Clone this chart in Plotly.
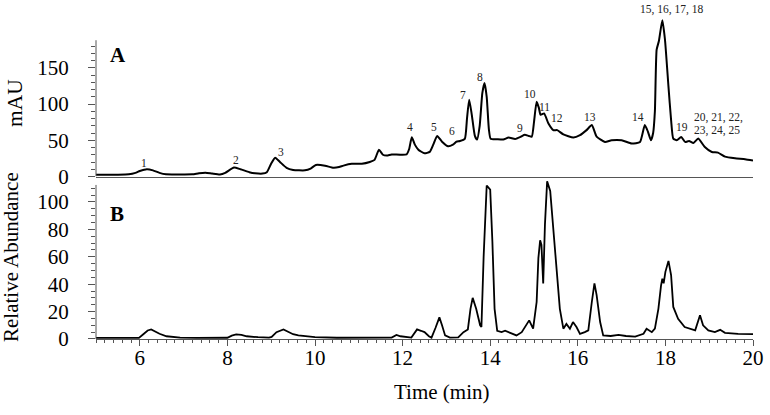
import plotly.graph_objects as go

# ---- Panel A (UV, mAU) ----
uv_time = [5.0, 5.5, 5.75, 5.9, 6.0, 6.16, 6.3, 6.45, 6.6, 6.9, 7.2, 7.35, 7.5, 7.65, 7.83, 7.95, 8.15, 8.3,
           8.5, 8.63, 8.8, 8.9, 9.0, 9.09, 9.2, 9.35, 9.5, 9.77, 9.9, 10.02, 10.23, 10.42, 10.55, 10.65,
           10.84, 11.07, 11.25, 11.36, 11.46, 11.55, 11.64, 11.75, 12.09, 12.15, 12.21, 12.28, 12.36,
           12.5, 12.62, 12.7, 12.79, 12.9, 13.04, 13.15, 13.23, 13.31, 13.42, 13.47, 13.52, 13.58,
           13.65, 13.7, 13.76, 13.82, 13.87, 13.92, 13.97, 14.01, 14.15, 14.3, 14.42, 14.57, 14.7,
           14.79, 14.88, 14.95, 15.0, 15.06, 15.11, 15.15, 15.23, 15.33, 15.44, 15.53, 15.67, 15.9,
           16.05, 16.2, 16.32, 16.43, 16.62, 16.77, 17.0, 17.23, 17.42, 17.53, 17.6, 17.67, 17.72,
           17.76, 17.8, 17.85, 17.93, 17.99, 18.07, 18.13, 18.18, 18.26, 18.36, 18.45, 18.54, 18.64,
           18.75, 18.9, 19.06, 19.2, 19.36, 19.59, 19.82, 20.0]
uv_mau = [2.5, 2.5, 3, 5, 7.5, 10, 8.5, 5, 3, 2.8, 3, 4.5, 5.2, 4, 2.8, 5, 12.5, 10,
          6, 4.5, 4, 6, 18, 26, 20, 12, 9, 8.5, 11, 16, 15, 12, 13, 15,
          17.5, 17.5, 20, 23, 37, 30, 29, 30.5, 30.5, 38, 54, 44, 37,
          32, 34, 44, 56, 48, 41.7, 44, 48, 49, 52, 80, 106, 85,
          56, 51, 70, 115, 129, 110, 65, 52, 51.4, 51, 53.7, 51.8, 55,
          57.5, 56, 55, 75, 103, 95, 85, 87, 73, 64, 64, 58, 53.7,
          57, 64, 71, 55, 47.7, 50, 50, 45.4, 47.7, 71, 62, 50, 60,
          90, 175, 186.5, 215.7, 189, 124, 78, 52.3, 50, 54.6, 47.7, 49, 46.3,
          52.3, 40.7, 33.8, 33, 27.5, 25.2, 23.9, 22]

# ---- Panel B (MS, relative abundance) ----
ms_time = [5.0, 5.5, 5.98, 6.08, 6.18, 6.26, 6.35, 6.45, 6.61, 6.8, 6.92, 7.3, 7.7, 8.0, 8.1, 8.2, 8.32,
           8.44, 8.7, 8.95, 9.01, 9.12, 9.28, 9.4, 9.5, 9.62, 9.8, 10.0, 10.5, 11.0, 11.5, 11.75, 11.86,
           11.95, 12.2, 12.27, 12.33, 12.42, 12.5, 12.6, 12.66, 12.75, 12.84, 12.9, 12.97, 13.08, 13.27,
           13.39, 13.49, 13.55, 13.6, 13.68, 13.77, 13.8, 13.85, 13.92, 14.0, 14.05, 14.1, 14.16, 14.26,
           14.34, 14.49, 14.6, 14.72, 14.82, 14.89, 14.98, 15.06, 15.1, 15.14, 15.17, 15.21, 15.25, 15.3,
           15.37, 15.44, 15.52, 15.59, 15.67, 15.74, 15.82, 15.89, 15.97, 16.05, 16.16, 16.24, 16.32,
           16.38, 16.43, 16.51, 16.58, 16.75, 16.93, 17.1, 17.31, 17.5, 17.57, 17.69, 17.76, 17.84, 17.9,
           17.93, 17.96, 18.0, 18.07, 18.13, 18.18, 18.29, 18.44, 18.6, 18.68, 18.79, 18.86, 18.98, 19.13,
           19.25, 19.36, 19.66, 20.0]
ms_abund = [0.8, 0.7, 0.8, 3.5, 6.2, 7, 5.5, 3.8, 2, 1.2, 1, 0.8, 0.9, 0.9, 2.5, 3.3, 3,
            2, 1.3, 1, 1.5, 5, 7, 5, 3.5, 2.6, 1.8, 1.3, 0.9, 0.8, 0.9, 1, 3,
            2, 1, 4, 7, 6, 5, 2, 1, 8, 15.8, 10, 2.6, 1, 1.2,
            5, 7, 22, 30, 22, 10, 8.7, 60, 112, 109, 71, 22, 6, 5,
            6, 3.8, 2.6, 5, 10, 13.6, 7.5, 27, 59, 72, 68.7, 40.6, 83.5, 115,
            108, 81, 51.6, 22, 7.5, 11, 7.5, 12.4, 8.7, 3.8, 5, 6.3, 27,
            40.6, 32, 12.4, 2.6, 2.2, 3, 2.2, 1.8, 3.8, 7.5, 5, 7.5, 22, 39,
            44, 40.6, 49, 57, 46.7, 23.4, 14.8, 8.7, 7, 6.3, 17.3, 10, 6.3, 5,
            6.7, 4.5, 3.8, 3.5]

# peak labels (text, time, mAU)
peak_text = ["1", "2", "3", "4", "5", "6", "7", "8", "9", "10", "11", "12", "13", "14",
             "15, 16, 17, 18", "19", "20, 21, 22,", "23, 24, 25"]
peak_time = [6.10, 8.20, 9.22, 12.17, 12.72, 13.13, 13.38, 13.77, 14.68, 14.91, 15.23, 15.52,
             16.28, 17.37, 18.15, 18.38, 19.22, 19.18]
peak_mau = [18.6, 22.8, 33.8, 68.3, 68.3, 62.8, 112.4, 137.2, 66.9, 113.8, 95.9, 80.7,
            82.1, 82.1, 231, 68.3, 82.1, 64.1]

x_ticks = [6, 8, 10, 12, 14, 16, 18, 20]
uv_ticks = [0, 50, 100, 150]
ms_ticks = [0, 20, 40, 60, 80, 100]

FONT = "Liberation Serif"
AX = "#555555"

fig = go.Figure()
fig.add_trace(go.Scatter(x=uv_time, y=uv_mau, xaxis="x2", yaxis="y2", mode="lines",
                         line=dict(color="black", width=2, shape="spline", smoothing=0.5),
                         showlegend=False, hoverinfo="skip"))
fig.add_trace(go.Scatter(x=ms_time, y=ms_abund, xaxis="x", yaxis="y", mode="lines",
                         line=dict(color="black", width=1.8),
                         showlegend=False, hoverinfo="skip"))

uv_top = 188
ms_top = 112.4

fig.update_layout(
    width=770, height=415,
    margin=dict(l=96, r=17, t=5, b=76),
    paper_bgcolor="white", plot_bgcolor="white",
    font=dict(family=FONT, size=21, color="black"),
    xaxis=dict(domain=[0, 1], anchor="y", range=[5, 20], tickmode="array", tickvals=x_ticks,
               showline=True, linecolor=AX, linewidth=1, ticks="outside", ticklen=6,
               tickcolor=AX, showgrid=False, zeroline=False, ticklabelstandoff=-6,
               minor=dict(dtick=0.2, tick0=5, ticks="outside", ticklen=3, tickcolor=AX),
               tickfont=dict(size=21, family=FONT)),
    yaxis=dict(domain=[0, 0.476], anchor="x", range=[0, 116], tickmode="array", tickvals=ms_ticks,
               showline=False, ticks="outside", ticklen=7, tickcolor=AX, showgrid=False,
               zeroline=False, ticklabelstandoff=15,
               minor=dict(tickmode="array", tickvals=[v for v in range(5, 111, 5)],
                          ticks="outside", ticklen=4, tickcolor=AX),
               tickfont=dict(size=21, family=FONT)),
    xaxis2=dict(domain=[0, 1], anchor="y2", matches="x", range=[5, 20], showticklabels=False,
                showline=True, linecolor=AX, linewidth=1, ticks="", showgrid=False, zeroline=False),
    yaxis2=dict(domain=[0.4865, 1], anchor="x2", range=[0, 236.6], tickmode="array", tickvals=uv_ticks,
                showline=False, ticks="outside", ticklen=7, tickcolor=AX, showgrid=False,
                zeroline=False, ticklabelstandoff=15,
                minor=dict(tickmode="array", tickvals=[v for v in range(10, 181, 10)],
                           ticks="outside", ticklen=4, tickcolor=AX),
                tickfont=dict(size=21, family=FONT)),
)

# y-axis lines (stop at the top tick region, as in the original)
fig.add_shape(type="line", xref="paper", yref="y2", x0=0, x1=0, y0=0, y1=uv_top,
              line=dict(color=AX, width=1))
fig.add_shape(type="line", xref="paper", yref="y", x0=0, x1=0, y0=0, y1=ms_top,
              line=dict(color=AX, width=1))

for txt, t, v in zip(peak_text, peak_time, peak_mau):
    fig.add_annotation(x=t, y=v, xref="x2", yref="y2", text=txt, showarrow=False,
                       font=dict(family=FONT, size=11.5, color="#222222"),
                       xanchor="center", yanchor="middle")

def label(x, y, text, size=21, angle=0):
    fig.add_annotation(x=x, y=y, xref="paper", yref="paper", text=text, showarrow=False,
                       xanchor="center", yanchor="middle", textangle=angle,
                       font=dict(family=FONT, size=size, color="black"))

label(0.0335, 0.850, "<b>A</b>")
label(0.032, 0.374, "<b>B</b>")
label(0.5266, -0.1587, "Time (min)")
label(-0.1233, 0.7066, "mAU", size=21.5, angle=-90)
label(-0.1294, 0.2455, "Relative Abundance", angle=-90)

fig.write_html("out.html", post_script="document.body.style.margin='0px';",
               config={"displayModeBar": False})
